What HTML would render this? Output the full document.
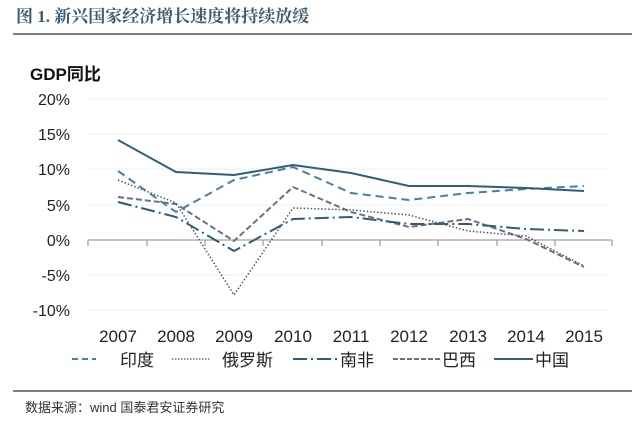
<!DOCTYPE html>
<html><head><meta charset="utf-8"><style>
html,body{margin:0;padding:0;background:#fff;width:643px;height:430px;overflow:hidden}
</style></head><body>
<svg width="643" height="430" xmlns="http://www.w3.org/2000/svg" font-family="Liberation Sans, Noto Sans CJK SC, sans-serif">
<text x="16" y="22" font-size="17" font-weight="bold" fill="#3b5a73" font-family="Liberation Serif, Noto Serif CJK SC, serif">图 1. 新兴国家经济增长速度将持续放缓</text>
<line x1="13" y1="34" x2="632" y2="34" stroke="#333" stroke-width="1.2"/>
<text x="30" y="80" font-size="17" font-weight="bold" fill="#111">GDP同比</text>
<g stroke="#eceff2" stroke-width="1">
<line x1="88" y1="99" x2="608" y2="99"/><line x1="88" y1="134" x2="608" y2="134"/>
<line x1="88" y1="169" x2="608" y2="169"/><line x1="88" y1="205" x2="608" y2="205"/>
<line x1="88" y1="275" x2="608" y2="275"/><line x1="88" y1="310" x2="608" y2="310"/>
</g>
<line x1="88" y1="240" x2="612" y2="240" stroke="#888" stroke-width="1"/>
<g stroke="#888"><line x1="88" y1="240" x2="88" y2="246"/><line x1="147" y1="240" x2="147" y2="246"/><line x1="205" y1="240" x2="205" y2="246"/><line x1="263" y1="240" x2="263" y2="246"/><line x1="322" y1="240" x2="322" y2="246"/><line x1="380" y1="240" x2="380" y2="246"/><line x1="438" y1="240" x2="438" y2="246"/><line x1="497" y1="240" x2="497" y2="246"/><line x1="555" y1="240" x2="555" y2="246"/><line x1="612" y1="240" x2="612" y2="246"/></g>
<g font-size="16" fill="#222" text-anchor="end">
<text x="70" y="105">20%</text><text x="70" y="140">15%</text><text x="70" y="175">10%</text><text x="70" y="211">5%</text><text x="70" y="246">0%</text><text x="70" y="281">-5%</text><text x="70" y="316">-10%</text>
</g>
<g font-size="17" fill="#222" text-anchor="middle">
<text x="118" y="342">2007</text><text x="176" y="342">2008</text><text x="234" y="342">2009</text><text x="293" y="342">2010</text><text x="351" y="342">2011</text><text x="409" y="342">2012</text><text x="468" y="342">2013</text><text x="526" y="342">2014</text><text x="584" y="342">2015</text>
</g>
<g fill="none" stroke-width="2">
<polyline stroke="#6e6e7e" stroke-dasharray="6,3" points="118,197 176,204 234,241 293,187 351,212 409,227 468,219 526,239 584,267"/>
<polyline stroke="#555" stroke-width="1.5" stroke-dasharray="1.5,2" points="118,180 176,203 234,295 293,208 351,210 409,215 468,231 526,236 584,266"/>
<polyline stroke="#2f5d78" stroke-dasharray="14,4,2,4" points="118,202 176,217 234,251 293,219 351,217 409,224 468,224 526,229 584,231"/>
<polyline stroke="#4a7fa0" stroke-dasharray="8,5" points="118,171 176,212 234,180 293,167 351,193 409,200 468,193 526,189 584,186"/>
<polyline stroke="#2e5f7a" points="118,140 176,172 234,175 293,165 351,173 409,186 468,186 526,188 584,191"/>
</g>
<g stroke-width="2" fill="none">
<line x1="72" y1="359" x2="96" y2="359" stroke="#4a7fa0" stroke-dasharray="6,4"/>
<line x1="172" y1="359" x2="210" y2="359" stroke="#555" stroke-width="1.3" stroke-dasharray="1.5,1.5"/>
<line x1="293" y1="359" x2="338" y2="359" stroke="#2f5d78" stroke-dasharray="14,4,2,4"/>
<line x1="393" y1="359" x2="440" y2="359" stroke="#6e6e7e" stroke-dasharray="5,2"/>
<line x1="494" y1="359" x2="533" y2="359" stroke="#2e5f7a"/>
</g>
<g font-size="17" fill="#222">
<text x="120" y="366">印度</text><text x="222" y="366">俄罗斯</text><text x="340" y="366">南非</text><text x="442" y="366">巴西</text><text x="535" y="366">中国</text>
</g>
<line x1="13" y1="391" x2="632" y2="391" stroke="#333" stroke-width="1.2"/>
<text x="25" y="412" font-size="13" fill="#333">数据来源：wind  国泰君安证券研究</text>
</svg>
</body></html>
